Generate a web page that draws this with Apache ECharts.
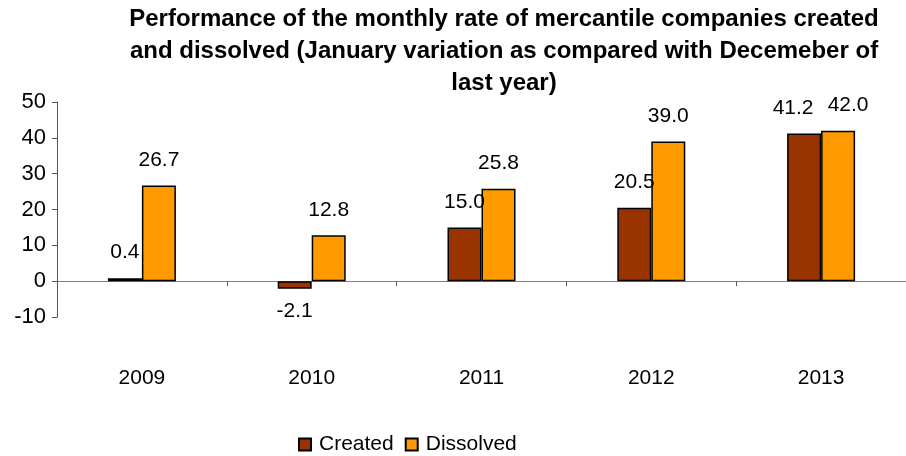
<!DOCTYPE html>
<html>
<head>
<meta charset="utf-8">
<script src="https://cdn.jsdelivr.net/npm/echarts@6/dist/echarts.min.js"></script>
<style>
  html, body { margin: 0; padding: 0; background: #fff; }
  #chart { width: 906px; height: 456px; }
</style>
</head>
<body>
<div id="chart"></div>
<script>
var years = ['2009', '2010', '2011', '2012', '2013'];
var created = [0.4, -2.1, 15.0, 20.5, 41.2];
var dissolved = [26.7, 12.8, 25.8, 39.0, 42.0];
var yTicks = { min: -10, max: 50, step: 10 };

var font = 'Liberation Sans, Arial, sans-serif';

// negative bars get their label underneath
function withLabels(values) {
  return values.map(function(v) {
    return {
      value: v,
      label: v < 0 ? { position: 'bottom', distance: 12 } : { position: 'top', distance: 15 }
    };
  });
}

// two labels at nearly the same height would collide, so push them apart
function spreadLabels(p) {
  var i = p.dataIndex;
  if (Math.abs(created[i] - dissolved[i]) < 3) {
    return { dx: p.seriesIndex === 0 ? -11 : 10 };
  }
}

var labelStyle = {
  show: true,
  color: '#000',
  fontFamily: font,
  fontSize: 21,
  formatter: function(p) { return p.value.toFixed(1); }
};

var myChart = echarts.init(document.getElementById('chart'));

var option = {
  animation: false,
  title: {
    text: 'Performance of the monthly rate of mercantile companies created\nand dissolved (January variation as compared with Decemeber of\nlast year)',
    left: 504,
    textAlign: 'center',
    top: 3,
    padding: 0,
    textStyle: {
      fontFamily: font,
      fontWeight: 'bold',
      fontSize: 24,
      lineHeight: 32,
      color: '#000'
    }
  },
  legend: {
    left: 298,
    top: 434,
    padding: 0,
    itemWidth: 12,
    itemHeight: 12,
    itemGap: 11,
    icon: 'rect',
    textStyle: { fontFamily: font, fontSize: 21, color: '#000', padding: [0, 0, 0, 3] },
    data: ['Created', 'Dissolved']
  },
  grid: {
    left: 57,
    right: -7,
    top: 102,
    bottom: 139,
    containLabel: false
  },
  xAxis: {
    type: 'category',
    data: years,
    axisLine: { onZero: true, lineStyle: { color: '#808080', width: 1 } },
    axisTick: { show: true, length: 5, lineStyle: { color: '#555' } },
    axisLabel: { margin: 51, color: '#000', fontFamily: font, fontSize: 21 }
  },
  yAxis: {
    type: 'value',
    min: yTicks.min,
    max: yTicks.max,
    interval: yTicks.step,
    splitLine: { show: false },
    axisLine: { show: true, lineStyle: { color: '#555', width: 1 } },
    axisTick: { show: true, length: 5, lineStyle: { color: '#555' } },
    axisLabel: { margin: 11, color: '#000', fontFamily: font, fontSize: 22 }
  },
  series: [
    {
      name: 'Created',
      type: 'bar',
      barWidth: 34,
      barGap: '0%',
      barMinHeight: 3,
      data: withLabels(created),
      label: labelStyle,
      labelLayout: spreadLabels,
      itemStyle: { color: '#993300', borderColor: '#000', borderWidth: 1.5 }
    },
    {
      name: 'Dissolved',
      type: 'bar',
      barWidth: 34,
      barGap: '0%',
      barMinHeight: 3,
      data: withLabels(dissolved),
      label: labelStyle,
      labelLayout: spreadLabels,
      itemStyle: { color: '#ff9900', borderColor: '#000', borderWidth: 1.5 }
    }
  ]
};

myChart.setOption(option);
</script>
</body>
</html>
